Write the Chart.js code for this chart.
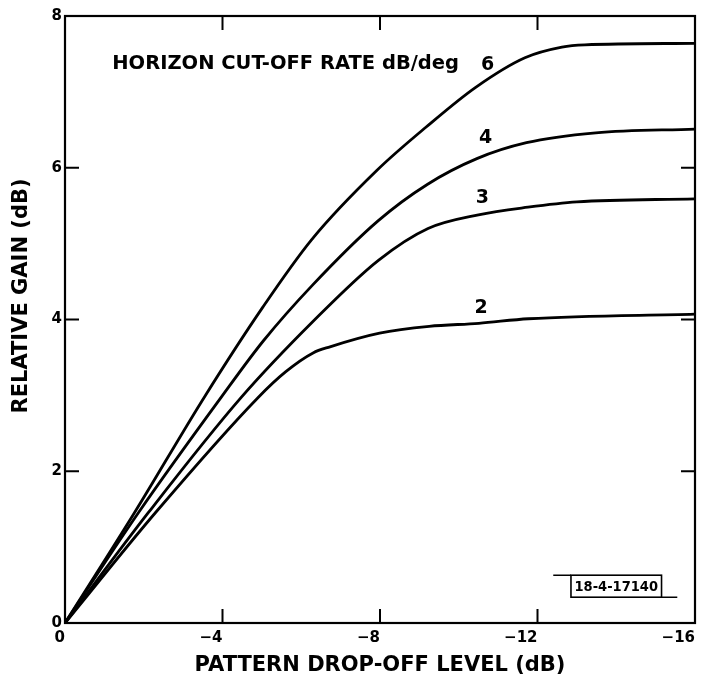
<!DOCTYPE html>
<html>
<head>
<meta charset="utf-8">
<script src="https://cdn.jsdelivr.net/npm/chart.js@4.4.1/dist/chart.umd.min.js"></script>
<style>
  html, body { margin: 0; padding: 0; background: #fff; }
  #wrap { width: 701px; height: 682px; }
</style>
</head>
<body>
<div id="wrap"><canvas id="chart"></canvas></div>
<script>
// tick values
const xTicks = [0, -4, -8, -12, -16];
const yTicks = [0, 2, 4, 6, 8];

// pattern drop-off level (dB) / relative gain (dB), one pair per cut-off rate
const drop6 = [0, -1.76, -3.53, -5.02, -6.26, -7.93, -9.18, -10.43, -11.68, -12.62, -13.2, -16];
const gain6 = [0, 1.45, 2.97, 4.16, 5.05, 5.97, 6.54, 7.06, 7.45, 7.59, 7.62, 7.64];

const drop4 = [0, -1.86, -3.96, -5.04, -6.28, -7.95, -9.2, -10.46, -11.72, -13.48, -16];
const gain4 = [0, 1.45, 2.97, 3.72, 4.45, 5.3, 5.78, 6.12, 6.33, 6.46, 6.51];

const drop3 = [0, -2.11, -4.47, -6.29, -7.96, -9.22, -10.5, -11.76, -13.0, -16];
const gain3 = [0, 1.45, 2.97, 3.97, 4.78, 5.2, 5.38, 5.48, 5.55, 5.59];

const drop2 = [0, -2.29, -4.9, -5.6, -6.3, -6.73, -7.99, -9.25, -10.51, -11.77, -16];
const gain2 = [0, 1.45, 2.97, 3.31, 3.56, 3.64, 3.82, 3.91, 3.95, 4.01, 4.07];

const rates = ['6', '4', '3', '2'];

// where the rate numbers and headings sit (data units)
const rateLabelAt = [[-10.73, 7.35], [-10.68, 6.39], [-10.6, 5.6], [-10.57, 4.15]];
const heading = 'HORIZON CUT-OFF RATE dB/deg';
const headingAt = [-1.2, 7.37];
const yTitle = 'RELATIVE GAIN (dB)';
const yTitleAt = 4.31;
const figNumber = '18-4-17140';

function toPoints(xs, ys) {
    return xs.map((v, i) => ({ x: v, y: ys[i] }));
}

const decorations = {
    id: 'decorations',
    afterDatasetsDraw(chart) {
        const { ctx, chartArea: a, scales: { x, y } } = chart;
        ctx.save();
        ctx.strokeStyle = '#000';
        ctx.fillStyle = '#000';

        // frame
        ctx.lineWidth = 2.2;
        ctx.strokeRect(a.left, a.top, a.right - a.left, a.bottom - a.top);

        // inward tick marks on all four sides
        const len = 14;
        ctx.lineWidth = 2;
        ctx.beginPath();
        xTicks.slice(1, -1).forEach(v => {
            const px = x.getPixelForValue(v);
            ctx.moveTo(px, a.bottom); ctx.lineTo(px, a.bottom - len);
            ctx.moveTo(px, a.top); ctx.lineTo(px, a.top + len);
        });
        yTicks.slice(1, -1).forEach(v => {
            const py = y.getPixelForValue(v);
            ctx.moveTo(a.left, py); ctx.lineTo(a.left + len, py);
            ctx.moveTo(a.right, py); ctx.lineTo(a.right - len, py);
        });
        ctx.stroke();

        // heading inside the plot
        ctx.font = 'bold 19.5px "DejaVu Sans", sans-serif';
        ctx.textBaseline = 'middle';
        ctx.textAlign = 'left';
        ctx.fillText(heading, x.getPixelForValue(headingAt[0]), y.getPixelForValue(headingAt[1]));

        // rate numbers next to each curve
        ctx.font = 'bold 19px "DejaVu Sans", sans-serif';
        ctx.textAlign = 'center';
        rates.forEach((r, i) => {
            ctx.fillText(r, x.getPixelForValue(rateLabelAt[i][0]), y.getPixelForValue(rateLabelAt[i][1]));
        });

        // y axis title
        ctx.save();
        ctx.translate(22, y.getPixelForValue(yTitleAt));
        ctx.rotate(-Math.PI / 2);
        ctx.font = 'bold 21px "DejaVu Sans", sans-serif';
        ctx.fillText(yTitle, 0, 0);
        ctx.restore();

        // figure number box
        const bx0 = x.getPixelForValue(-12.85), bx1 = x.getPixelForValue(-15.15);
        const by0 = y.getPixelForValue(0.63), by1 = y.getPixelForValue(0.34);
        ctx.lineWidth = 1.6;
        ctx.strokeRect(bx0, by0, bx1 - bx0, by1 - by0);
        ctx.beginPath();
        ctx.moveTo(x.getPixelForValue(-12.4), by0); ctx.lineTo(bx0, by0);
        ctx.moveTo(bx1, by1); ctx.lineTo(x.getPixelForValue(-15.55), by1);
        ctx.stroke();
        ctx.font = 'bold 14.5px "DejaVu Sans Condensed", "Liberation Sans Narrow", sans-serif';
        ctx.fillText(figNumber, (bx0 + bx1) / 2, (by0 + by1) / 2 + 1);

        ctx.restore();
    }
};

const curveStyle = {
    borderColor: '#000',
    borderWidth: 2.8,
    pointRadius: 0,
    fill: false,
    cubicInterpolationMode: 'monotone'
};

const tickFont = { family: 'DejaVu Sans', size: 15, weight: 'bold' };
const titleFont = { family: 'DejaVu Sans', size: 21, weight: 'bold' };

window.onload = function () {
    const ctx = document.getElementById('chart').getContext('2d');
    new Chart(ctx, {
        type: 'line',
        data: {
            datasets: [
                Object.assign({ label: rates[0], data: toPoints(drop6, gain6) }, curveStyle),
                Object.assign({ label: rates[1], data: toPoints(drop4, gain4) }, curveStyle),
                Object.assign({ label: rates[2], data: toPoints(drop3, gain3) }, curveStyle),
                Object.assign({ label: rates[3], data: toPoints(drop2, gain2) }, curveStyle)
            ]
        },
        options: {
            animation: false,
            responsive: true,
            maintainAspectRatio: false,
            layout: { padding: { top: 16, right: 4, left: 0, bottom: 0 } },
            plugins: {
                legend: { display: false },
                tooltip: { enabled: false }
            },
            scales: {
                x: {
                    type: 'linear',
                    min: -16,
                    max: 0,
                    reverse: true,
                    afterBuildTicks: s => { s.ticks = xTicks.map(v => ({ value: v })); },
                    grid: { display: false, drawTicks: false },
                    border: { display: false },
                    ticks: {
                        color: '#000',
                        font: tickFont,
                        align: 'end',
                        padding: 6,
                        callback: v => v === 0 ? '0' : '\u2212' + Math.abs(v)
                    },
                    title: {
                        display: true,
                        text: 'PATTERN DROP-OFF LEVEL (dB)',
                        color: '#000',
                        font: titleFont,
                        padding: { top: 0, bottom: 4 }
                    },
                    afterFit: s => { s.height = 59; }
                },
                y: {
                    type: 'linear',
                    min: 0,
                    max: 8,
                    afterBuildTicks: s => { s.ticks = yTicks.map(v => ({ value: v })); },
                    grid: { display: false, drawTicks: false },
                    border: { display: false },
                    ticks: { color: '#000', font: tickFont, padding: 3 },
                    afterFit: s => { s.width = 65; }
                }
            }
        },
        plugins: [decorations]
    });
};
</script>
</body>
</html>
